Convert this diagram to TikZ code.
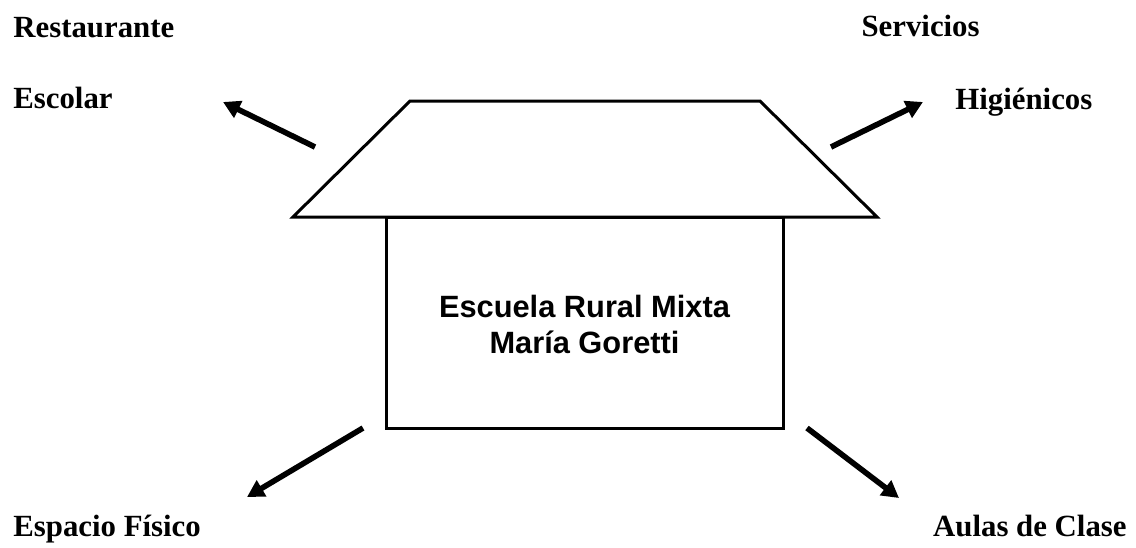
\documentclass[tikz,border=0pt]{standalone}
\usepackage{fontspec}
\setmainfont{Liberation Serif}
\newfontfamily\arialfont{Liberation Sans}
\usetikzlibrary{arrows.meta}
\begin{document}
\begin{tikzpicture}[x=0.5pt,y=-0.5pt,
  lbl/.style={inner sep=0pt,font=\fontsize{15.4}{18}\selectfont\bfseries},
  ctr/.style={inner sep=0pt,font=\arialfont\fontsize{15.4}{18}\selectfont\bfseries},
  house/.style={line width=1.5pt,line join=miter},
  arr/.style={line width=2.8pt,-{Triangle[length=8.5pt,width=9pt]}}]
\useasboundingbox (0,0) rectangle (1136,547);
% roof
\coordinate (rtl) at (410,101);
\coordinate (rtr) at (760,101);
\coordinate (rbr) at (877,217);
\coordinate (rbl) at (293,217);
\draw[house] (rtl) -- (rtr) -- (rbr) -- (rbl) -- cycle;
% walls
\coordinate (wtl) at (386,217);
\coordinate (wbr) at (783,428);
\draw[house] (wtl) |- (wbr) |- (wtl);
% centre text
\node[ctr,anchor=base] (t1) at (584.5,317) {Escuela Rural Mixta};
\node[ctr,anchor=base] (t2) at (584.5,353) {María Goretti};
% labels
\node[lbl,anchor=base west] (l1) at (13,37) {Restaurante};
\node[lbl,anchor=base west] (l2) at (13,108) {Escolar};
\node[lbl,anchor=base east] (l3) at (980,36) {Servicios};
\node[lbl,anchor=base west] (l4) at (955,109) {Higiénicos};
\node[lbl,anchor=base west] (l5) at (13,536) {Espacio Físico};
\node[lbl,anchor=base east] (l6) at (1127,536) {Aulas de Clase};
% arrows
\coordinate (a1s) at (315,147); \coordinate (a1e) at (223,102);
\coordinate (a2s) at (831,147); \coordinate (a2e) at (923,102);
\coordinate (a3s) at (363,428); \coordinate (a3e) at (247,497);
\coordinate (a4s) at (807,428); \coordinate (a4e) at (899,498);
\draw[arr] (a1s) -- (a1e);
\draw[arr] (a2s) -- (a2e);
\draw[arr] (a3s) -- (a3e);
\draw[arr] (a4s) -- (a4e);
\end{tikzpicture}
\end{document}
